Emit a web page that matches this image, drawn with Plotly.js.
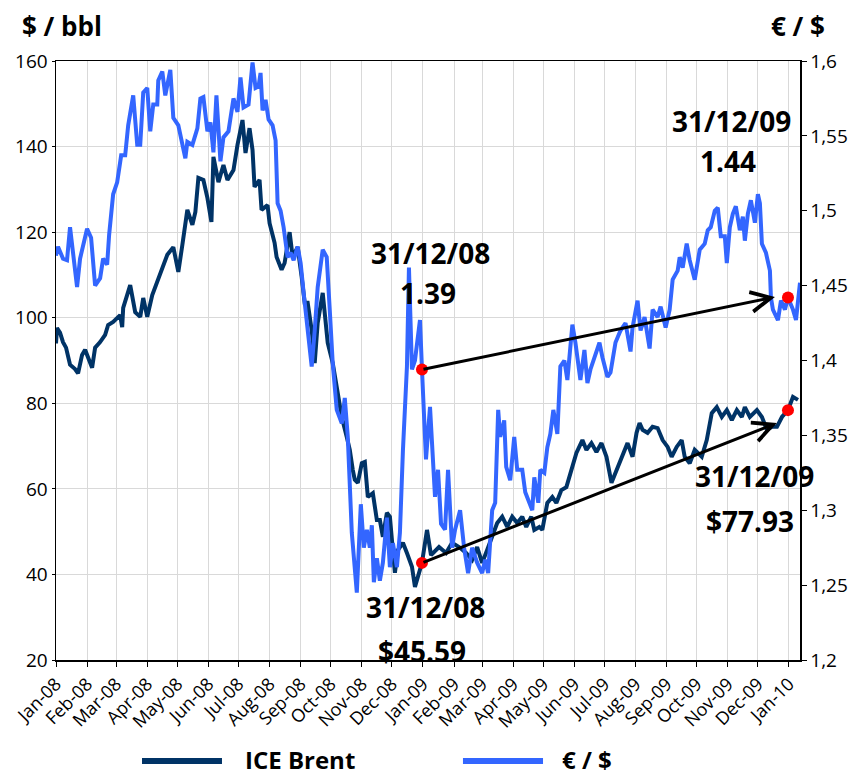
<!DOCTYPE html>
<html>
<head>
<meta charset="utf-8">
<script src="https://cdn.plot.ly/plotly-3.0.1.min.js"></script>
<style>
html,body{margin:0;padding:0;background:#fff;}
#chart{width:851px;height:776px;}
</style>
</head>
<body>
<div id="chart"></div>
<script>
// Days since 2008-01-01 and values
const brentDay = [0,1,4,7,10,14,19,22,26,29,36,39,44,49,52,57,64,66,67,74,79,84,87,91,96,101,106,111,117,122,126,131,136,139,142,147,151,155,157,162,167,171,177,181,186,189,193,196,198,203,205,211,213,218,220,225,228,233,236,241,245,248,251,255,258,261,266,271,276,281,285,290,293,296,298,301,305,308,311,316,320,323,326,330,333,335,338,341,346,350,355,358,361,365,370,374,382,389,395,402,409,415,420,425,430,435,440,445,450,455,460,465,469,474,477,482,485,490,495,499,504,509,514,519,525,529,534,539,544,549,554,559,565,570,575,579,582,585,590,595,600,605,610,614,619,624,627,632,637,644,649,654,659,664,669,674,679,684,687,692,699,704,709,714,719,724,730,735,740];
const brentVal = [94.0,97.6,96.5,94.3,93.0,89.0,88.0,87.0,91.3,92.5,88.3,93.0,94.3,96.0,98.3,99.0,100.6,97.8,102.3,107.6,101.3,100.2,104.6,100.2,105.3,108.4,111.6,114.7,116.5,110.7,117.0,125.2,121.7,124.7,132.7,132.2,128.0,122.4,137.6,131.7,135.7,132.2,134.5,140.4,146.2,138.5,144.3,139.2,130.6,132.2,125.2,126.3,122.1,117.5,114.2,111.2,112.8,120.0,114.2,116.5,109.5,103.5,103.5,97.1,89.4,98.8,105.8,94.1,89.4,83.1,76.8,72.1,69.1,64.4,62.1,61.4,66.0,66.3,58.1,59.0,52.7,52.7,48.8,54.4,53.5,48.1,40.4,45.7,47.4,45.0,41.8,37.1,39.4,42.7,50.4,44.5,46.4,45.0,47.4,46.4,45.0,43.4,46.4,42.7,45.7,48.8,52.0,53.5,51.1,53.5,52.0,53.5,51.1,53.5,50.4,51.1,50.4,56.7,58.1,56.7,59.7,60.4,64.4,68.4,71.4,69.1,70.7,68.6,70.7,67.5,61.4,64.4,67.5,70.7,67.5,73.1,75.4,73.8,73.1,74.5,74.2,71.4,69.8,67.5,69.8,71.4,67.5,66.0,69.1,67.5,71.4,77.7,79.1,76.8,78.4,76.1,78.4,76.8,79.1,76.8,78.4,76.8,73.8,74.5,74.5,76.8,78.4,81.5,80.8];

const fxDay = [0,2,7,11,14,17,21,24,31,35,39,44,47,51,53,57,61,65,69,72,77,81,84,87,91,94,97,101,102,106,109,114,117,122,126,129,131,136,141,144,147,151,154,157,160,164,167,172,177,181,184,187,192,196,199,202,204,206,209,212,216,219,221,224,227,229,231,234,237,241,244,247,250,255,258,261,266,270,273,276,280,285,288,291,295,298,300,304,307,310,313,315,317,320,323,326,330,333,336,340,343,346,350,352,355,358,363,365,369,373,378,381,384,388,391,395,398,403,407,411,415,420,425,428,431,435,438,441,443,447,449,453,457,460,465,468,472,475,477,481,483,487,490,493,496,500,503,507,510,515,518,523,527,530,533,538,542,545,550,553,558,563,568,573,575,580,583,587,592,595,600,603,608,612,615,620,622,625,629,632,637,642,647,650,653,657,660,663,667,669,672,675,678,682,685,687,690,693,697,700,702,704,708,712,713,715,720,723,727,730,735,738,742];
const fxVal = [1.470,1.476,1.468,1.467,1.489,1.470,1.449,1.468,1.488,1.482,1.450,1.455,1.468,1.464,1.484,1.511,1.519,1.537,1.537,1.557,1.577,1.544,1.544,1.579,1.582,1.553,1.571,1.571,1.587,1.593,1.577,1.594,1.562,1.557,1.546,1.535,1.546,1.544,1.555,1.575,1.576,1.553,1.559,1.539,1.577,1.533,1.549,1.553,1.575,1.566,1.589,1.569,1.571,1.599,1.582,1.583,1.592,1.567,1.574,1.561,1.557,1.547,1.505,1.500,1.489,1.476,1.469,1.472,1.467,1.476,1.465,1.445,1.425,1.396,1.420,1.449,1.474,1.469,1.434,1.398,1.367,1.358,1.375,1.349,1.285,1.258,1.245,1.304,1.275,1.287,1.275,1.290,1.252,1.268,1.253,1.265,1.295,1.262,1.278,1.262,1.285,1.340,1.396,1.462,1.394,1.400,1.427,1.394,1.334,1.369,1.309,1.327,1.291,1.287,1.327,1.275,1.287,1.300,1.275,1.258,1.275,1.265,1.258,1.267,1.258,1.300,1.305,1.367,1.349,1.360,1.329,1.320,1.349,1.327,1.327,1.312,1.305,1.300,1.322,1.305,1.327,1.325,1.342,1.351,1.367,1.351,1.396,1.400,1.387,1.424,1.412,1.387,1.407,1.385,1.394,1.405,1.412,1.402,1.389,1.392,1.412,1.420,1.425,1.406,1.422,1.440,1.420,1.429,1.408,1.434,1.429,1.436,1.422,1.434,1.454,1.460,1.469,1.462,1.478,1.467,1.454,1.474,1.478,1.487,1.489,1.500,1.502,1.483,1.483,1.465,1.489,1.498,1.503,1.487,1.496,1.480,1.498,1.507,1.492,1.511,1.505,1.478,1.472,1.460,1.442,1.434,1.427,1.440,1.434,1.442,1.434,1.427,1.452];

const dotDates = ['2008-12-31','2009-12-31'];
const brentDots = [42.7, 78.4];
const fxDots = [1.394, 1.442];
const arrowEndDates = ['2009-12-18','2009-12-20'];
const arrowEndFx = 1.4424;
const arrowEndBrent = 75.4;

const labelsFx = [['31/12/08','1.39'],['31/12/09','1.44']];
const labelsBrent = [['31/12/08','$45.59'],['31/12/09','$77.93']];
const seriesNames = ['ICE Brent','€ / $'];
const axisTitles = ['$ / bbl','€ / $'];

function toDate(d){ return new Date(Date.UTC(2008,0,1) + d*86400000).toISOString().slice(0,10); }

const NAVY = '#003366', BLUE = '#3366FF';
const font = 'Open Sans, Noto Sans, sans-serif';

const traces = [
  {x: brentDay.map(toDate), y: brentVal, type:'scatter', mode:'lines', name: seriesNames[0],
   line:{color:NAVY, width:4}, yaxis:'y'},
  {x: fxDay.map(toDate), y: fxVal, type:'scatter', mode:'lines', name: seriesNames[1],
   line:{color:BLUE, width:4}, yaxis:'y2'},
  {x: dotDates, y: brentDots, type:'scatter', mode:'markers', marker:{color:'#FF0000', size:12}, yaxis:'y', showlegend:false},
  {x: dotDates, y: fxDots, type:'scatter', mode:'markers', marker:{color:'#FF0000', size:12}, yaxis:'y2', showlegend:false}
];

function txt(x,y,t,size,anchor){
  return {xref:'paper', yref:'paper', x:x, y:y, text:'<b>'+t+'</b>', showarrow:false,
    xanchor:anchor||'center', yanchor:'middle', font:{family:font, size:size, color:'#000'}};
}

const annotations = [
  txt(0.0081,1.0585,axisTitles[0],26),
  txt(0.9973,1.0585,axisTitles[1],26),
  txt(0.5027,0.6795,labelsFx[0][0],28),
  txt(0.5000,0.6127,labelsFx[0][1],28),
  txt(0.9073,0.8998,labelsFx[1][0],28),
  txt(0.9032,0.8331,labelsFx[1][1],28),
  txt(0.4960,0.0885,labelsBrent[0][0],28),
  txt(0.4919,0.0150,labelsBrent[0][1],28),
  txt(0.9382,0.3072,labelsBrent[1][0],28),
  txt(0.9328,0.2321,labelsBrent[1][1],28),
  txt(0.2513,-0.1653,seriesNames[0],24,'left'),
  txt(0.6774,-0.1653,seriesNames[1],24,'left'),
  {xref:'x', yref:'y2', axref:'x', ayref:'y2', x:arrowEndDates[0], y:arrowEndFx, ax:dotDates[0], ay:fxDots[0],
   text:'', showarrow:true, arrowhead:5, arrowsize:1.3, arrowwidth:3, arrowcolor:'#000', standoff:0, startstandoff:0},
  {xref:'x', yref:'y', axref:'x', ayref:'y', x:arrowEndDates[1], y:arrowEndBrent, ax:dotDates[0], ay:brentDots[0],
   text:'', showarrow:true, arrowhead:5, arrowsize:1.3, arrowwidth:3, arrowcolor:'#000', standoff:0, startstandoff:0}
];

const shapes = [
  {type:'line', xref:'paper', yref:'paper', x0:0.1156, x1:0.2231, y0:-0.1686, y1:-0.1686, line:{color:NAVY, width:6}},
  {type:'line', xref:'paper', yref:'paper', x0:0.5470, x1:0.6546, y0:-0.1686, y1:-0.1686, line:{color:BLUE, width:6}}
];

const layout = {
  width:851, height:776,
  margin:{l:56, r:51, t:61, b:116},
  paper_bgcolor:'#fff', plot_bgcolor:'#fff',
  separators:', ',
  showlegend:false,
  font:{family:font, size:19, color:'#000'},
  xaxis:{type:'date', range:['2008-01-01','2010-01-12'], tick0:'2008-01-01', dtick:'M1',
    tickformat:'%b-%y', tickangle:-45, showgrid:true, gridcolor:'#d9d9d9', gridwidth:1,
    showline:true, linecolor:'#000', linewidth:1.5, mirror:true, ticks:'outside', ticklen:5, tickcolor:'#000',
    tickfont:{family:font, size:18}, zeroline:false},
  yaxis:{range:[20,160], dtick:20, showgrid:true, gridcolor:'#d9d9d9', gridwidth:1,
    showline:true, linecolor:'#000', linewidth:1.5, ticks:'outside', ticklen:3, tickcolor:'#000',
    tickfont:{family:font, size:19}, zeroline:false},
  yaxis2:{range:[1.2,1.6], dtick:0.05, overlaying:'y', side:'right', showgrid:false,
    showline:true, linecolor:'#000', linewidth:1.5, ticks:'outside', ticklen:5, tickcolor:'#000',
    tickfont:{family:font, size:19}, zeroline:false},
  annotations: annotations,
  shapes: shapes
};

Plotly.newPlot('chart', traces, layout, {displayModeBar:false, staticPlot:true});
</script>
</body>
</html>
